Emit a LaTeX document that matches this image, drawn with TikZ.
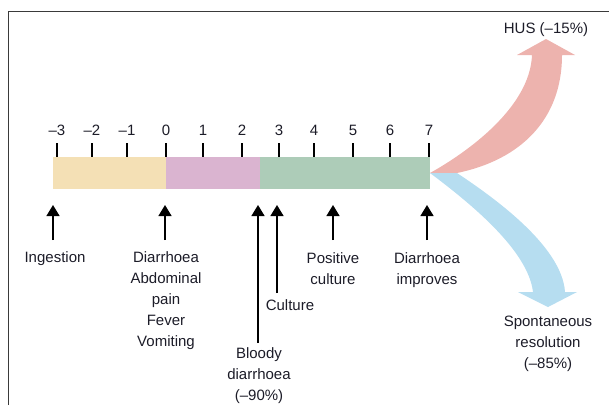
\documentclass[tikz,border=0pt]{standalone}
\usepackage{fontspec}
\setmainfont{Liberation Sans}
\usetikzlibrary{arrows.meta}
\definecolor{incubcol}{HTML}{F4E0B5}
\definecolor{sympcol}{HTML}{DAB4D0}
\definecolor{bloodcol}{HTML}{ADCCB8}
\definecolor{huscol}{HTML}{EDB3AE}
\definecolor{resolcol}{HTML}{B6DDF0}
\definecolor{framecol}{HTML}{3A3A3A}
\definecolor{txtcol}{HTML}{1C1C28}

\begin{document}
\begin{tikzpicture}[x=1pt,y=1pt]
        \tikzstyle{every node}+=[inner sep=0pt, text=txtcol, font=\fontsize{15}{21}\selectfont]
        \tikzstyle{uparrow}=[black, line width=1.3pt, -{Triangle[width=13pt,length=11pt]}]
        \tikzstyle{lbl}=[align=center, anchor=north]
        \useasboundingbox (0,0) rectangle (609,-405);
        \draw [framecol, line width=1pt] (8,-405) -- (8,-11) -- (609,-11);
        \fill [incubcol] (53,-157) rectangle (166,-189);
        \fill [sympcol] (166,-157) rectangle (260,-189);
        \fill [bloodcol] (260,-157) rectangle (430,-189);
        \foreach \x/\d in {57/–3, 92/–2, 127/–1, 166/0, 203/1, 242/2, 279/3, 314/4, 353/5, 390/6, 429/7}
        {
                \draw [black, line width=1.2pt] (\x,-143) -- (\x,-157);
                \node [anchor=base] (tick\d) at (\x,-135) {\d};
        }
        \coordinate (split) at (430,-173);
        \fill [huscol] (split) .. controls (466,-153) and (530,-108) .. (532,-55) -- (517,-55) -- (546,-39) -- (575,-55) -- (562,-55) .. controls (562,-120) and (520,-160) .. (457,-173) -- cycle;
        \fill [resolcol] (split) .. controls (470,-203) and (528,-250) .. (533,-292) -- (518,-292) -- (548,-307) -- (577,-292) -- (565,-292) .. controls (562,-245) and (490,-195) .. (457,-173) -- cycle;
        \node [lbl] (hus) at (546,-22) {HUS (–15\%)};
        \node [lbl] (resol) at (548,-316) {Spontaneous\\resolution\\(–85\%)};
        \coordinate (ingtip) at (53,-205);
        \coordinate (diartip) at (165,-205);
        \coordinate (bloodtip) at (258,-205);
        \coordinate (culttip) at (277,-205);
        \coordinate (postip) at (333,-205);
        \coordinate (imptip) at (427,-205);
        \node [lbl] (ingest) at (55,-251) {Ingestion};
        \node [lbl] (diarr) at (166,-251) {Diarrhoea\\Abdominal\\pain\\Fever\\Vomiting};
        \node [lbl] (bloody) at (259,-347) {Bloody\\diarrhoea\\(–90\%)};
        \node [lbl] (culture) at (290,-299) {Culture};
        \node [lbl] (poscult) at (333,-252) {Positive\\culture};
        \node [lbl] (improves) at (427,-252) {Diarrhoea\\improves};
        \draw [uparrow, shorten <=11pt] (ingest.north -| ingtip) -- (ingtip);
        \draw [uparrow, shorten <=11pt] (diarr.north -| diartip) -- (diartip);
        \draw [uparrow, shorten <=4pt] (bloody.north -| bloodtip) -- (bloodtip);
        \draw [uparrow, shorten <=6pt] (culture.north -| culttip) -- (culttip);
        \draw [uparrow, shorten <=12pt] (poscult.north) -- (postip);
        \draw [uparrow, shorten <=12pt] (improves.north) -- (imptip);
\end{tikzpicture}
\end{document}
